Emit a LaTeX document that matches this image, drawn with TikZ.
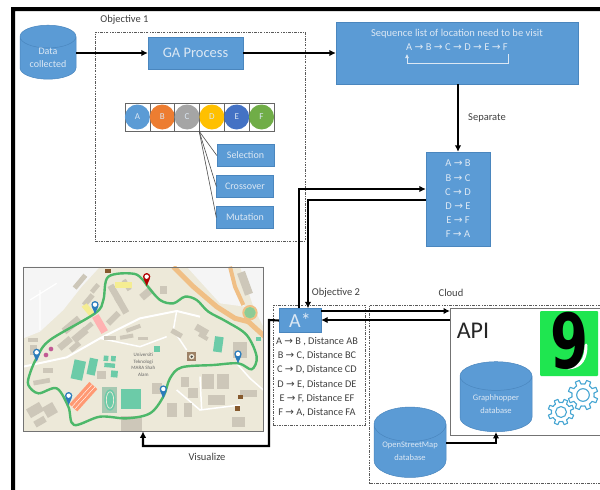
\documentclass[tikz,border=0pt]{standalone}
\usepackage{fontspec}
\setmainfont{Carlito}
\newfontfamily\arrfont{DejaVu Sans}
\usetikzlibrary{arrows.meta,shapes.geometric}
\definecolor{boxblue}{HTML}{5B9BD5}
\definecolor{boxedge}{HTML}{4A86BE}
\definecolor{paletxt}{HTML}{DCE8F4}
\definecolor{labeltxt}{HTML}{404040}
\definecolor{mapbg}{HTML}{EDE9D9}
\definecolor{mapbld}{HTML}{CDC7B9}
\definecolor{mapfield}{HTML}{6CCBA8}
\definecolor{maproad}{HTML}{F0BF85}
\definecolor{maproute}{HTML}{4DB86A}
\definecolor{pinblue}{HTML}{2B7CBB}
\definecolor{gearblue}{HTML}{45A5D2}
\definecolor{logogreen}{HTML}{1FE650}
\newcommand{\myar}{{\arrfont\char"2192}}
\newcommand{\bld}[5]{\fill[mapbld,shift={(#1,#2)},rotate=-#5] (-#3/2,-#4/2) rectangle (#3/2,#4/2);}
\newcommand{\fld}[5]{\fill[mapfield,shift={(#1,#2)},rotate=-#5] (-#3/2,-#4/2) rectangle (#3/2,#4/2);}
\newcommand{\mappin}[3]{\fill[#3] (#1,#2) -- (#1-10,#2-23) -- (#1+10,#2-23) -- cycle;
  \fill[#3] (#1,#2-28) circle[radius=11];
  \fill[white] (#1,#2-28) circle[radius=6.5];}
\newcommand{\gearshape}[3]{%
  \draw[gearblue,line width=1.1pt,line join=round,shift={(#1,#2)}] (0:#3*.74)
   \foreach \a in {0,45,...,315}{ -- (\a+10:#3*.74) -- (\a+14:#3) -- (\a+31:#3) -- (\a+35:#3*.74) -- (\a+45:#3*.74)} -- cycle;
  \draw[gearblue,line width=1.1pt] (#1,#2) circle[radius=#3*.42];}
\tikzset{
  bluebox/.style={rectangle,fill=boxblue,draw=boxedge,line width=.3pt,text=paletxt,inner sep=0pt,align=center},
  dbcyl/.style={cylinder,shape border rotate=90,aspect=.62,fill=boxblue,draw=boxedge,line width=.5pt,text=paletxt,inner sep=0pt,align=center},
  zone/.style={draw=black!65,line width=.6pt,dash pattern=on 2.5pt off 1.2pt on .8pt off 1.2pt},
  flow/.style={line width=2.1pt,draw=black,-{Latex[length=6.5pt,width=6.5pt]}},
  plainlabel/.style={text=labeltxt,inner sep=0pt,font=\fontsize{10.5}{12}\selectfont},
  cell/.style={rectangle,draw=black!60,line width=.6pt,minimum width=24.83pt,minimum height=28pt,inner sep=0pt},
  gene/.style={circle,minimum size=25pt,inner sep=0pt,text=paletxt,font=\fontsize{9}{10}\selectfont},
  linkline/.style={draw=black!70,line width=.6pt},
}
\begin{document}
\begin{tikzpicture}[x=1pt,y=-1pt]
\useasboundingbox (0,0) rectangle (600,490);
\fill[white] (0,0) rectangle (600,490);
% outer frame
\fill[black] (11,490) -- (11,7) -- (600,7) -- (600,11) -- (15,11) -- (15,490) -- cycle;
% zones
\node[zone,minimum width=210pt,minimum height=209pt,inner sep=0pt] (obja) at (200,136.5) {};
\node[zone,minimum width=92pt,minimum height=120pt,inner sep=0pt] (objb) at (319,365) {};
\draw[zone] (600,305) -- (369,305) -- (369,483) -- (600,483);
\node[plainlabel] (oneL) at (124.5,20) {Objective 1};
\node[plainlabel] (twoL) at (336,292.5) {Objective 2};
\node[plainlabel] (cloudL) at (451,292.5) {Cloud};
% data and GA
\node[dbcyl,minimum width=56pt,minimum height=54pt,font=\fontsize{10}{13}\selectfont] (data) at (48,58) {Data\\collected};
\node[bluebox,minimum width=95pt,minimum height=32pt,font=\fontsize{14.5}{16}\selectfont] (ga) at (195.5,53) {GA Process};
\node[bluebox,minimum width=242pt,minimum height=62pt] (seq) at (457,53) {};
\node[text=paletxt,inner sep=0pt,font=\fontsize{10.5}{12}\selectfont] (seqa) at (457,34) {Sequence list of location need to be visit};
\node[text=paletxt,inner sep=0pt,font=\fontsize{10.5}{12}\selectfont] (seqb) at (457,47.5) {A \myar{} B \myar{} C \myar{} D \myar{} E \myar{} F};
\coordinate (retF) at (508,54);
\coordinate (retA) at (407,54);
\draw[paletxt,line width=.7pt,-{Latex[length=4pt,width=4pt]}] (retF) -- ++(0,9) -| (retA);
% list
\node[bluebox,minimum width=64pt,minimum height=94pt,font=\fontsize{10.5}{14.2}\selectfont] (pairs) at (458,199) {A \myar{} B\\B \myar{} C\\C \myar{} D\\D \myar{} E\\E \myar{} F\\F \myar{} A};
\node[plainlabel] (sepL) at (487,118) {Separate};
% chromosome
\foreach \n/\l/\c [count=\i] in {a/A/5B9BD5,b/B/ED7D31,c/C/A5A5A5,d/D/FFC000,e/E/4472C4,f/F/70AD47}{
  \definecolor{genec}{HTML}{\c}
  \node[cell] (cell\n) at ({125+24.83*(\i-.5)},117) {};
  \node[gene,fill=genec] (gene\n) at (cell\n) {\l};
}
\node[bluebox,minimum width=57pt,minimum height=22pt,font=\fontsize{10}{12}\selectfont] (selb) at (245.5,155.5) {Selection};
\node[bluebox,minimum width=57pt,minimum height=22pt,font=\fontsize{10}{12}\selectfont] (crob) at (245,186.5) {Crossover};
\node[bluebox,minimum width=57pt,minimum height=22pt,font=\fontsize{10}{12}\selectfont] (mutb) at (245,217.5) {Mutation};
\draw[linkline] (celld.south west) -- (selb.west);
\draw[linkline] (celld.south west) -- (crob.west);
\draw[linkline] (celld.south west) -- (mutb.west);
% map
\begin{scope}[x=.33333pt,y=-.33333pt,yshift=-250pt]
\begin{scope}
\clip (70,50) rectangle (790,542);
\fill[mapbg] (70,50) rectangle (790,542);
\fill[black!4] (70,50) -- (300,50) -- (245,110) -- (190,180) -- (120,245) -- (70,265) -- cycle;
\fill[black!4] (560,50) -- (690,50) -- (715,135) -- (735,170) -- (660,160) -- cycle;
\fill[black!4] (720,50) -- (790,50) -- (790,230) -- (760,170) -- cycle;
% roads
\draw[maproad,line width=5pt] (520,50) -- (580,110) -- (650,170) -- (705,205) -- (745,215) -- (800,265);
\draw[maproad,line width=4pt] (690,50) -- (705,110) -- (730,165);
\fill[mapbg!70!green,draw=maproad,line width=2pt] (750,188) circle[radius=20];
\fill[maproute!60!mapbg] (750,188) circle[radius=17];
\draw[white,line width=2pt] (70,350) -- (200,322) -- (300,265) -- (420,205) -- (530,183) -- (600,200);
\draw[white,line width=1.5pt] (530,183) -- (520,240) -- (560,300);
\draw[white,line width=1.5pt] (300,265) -- (420,290) -- (500,260);
\draw[white,line width=1.5pt] (710,340) -- (750,385) -- (790,420);
\draw[white,line width=1.5pt] (530,420) -- (600,480) -- (720,465);
\draw[white,line width=1.5pt] (600,380) -- (605,480);
\draw[white,line width=1.2pt] (120,120) -- (120,240) (170,100) -- (90,150);
% buildings
\bld{240}{95}{50}{15}{-50}
\bld{215}{225}{60}{22}{-40}
\bld{240}{255}{50}{22}{-40}
\bld{195}{280}{45}{20}{-40}
\bld{225}{290}{35}{16}{-40}
\bld{265}{230}{30}{14}{-40}
\bld{285}{115}{30}{14}{-50}
\bld{345}{130}{55}{20}{60}
\bld{365}{165}{55}{20}{60}
\bld{380}{105}{35}{14}{60}
\bld{340}{205}{45}{18}{-45}
\bld{265}{150}{40}{16}{-50}
\bld{100}{270}{30}{14}{0}
\bld{100}{300}{20}{30}{0}
\bld{145}{362}{30}{14}{0}
\bld{125}{395}{50}{14}{-10}
\bld{105}{480}{45}{30}{-30}
\bld{150}{480}{35}{35}{-30}
\bld{120}{515}{35}{20}{-30}
\bld{400}{235}{45}{12}{-20}
\bld{380}{260}{40}{12}{-10}
\bld{330}{265}{35}{12}{0}
\bld{430}{265}{30}{10}{0}
\bld{305}{375}{25}{25}{0}
\bld{440}{130}{40}{22}{-40}
\bld{490}{120}{22}{22}{0}
\bld{530}{250}{35}{15}{30}
\bld{605}{240}{40}{20}{30}
\bld{610}{260}{30}{12}{30}
\bld{720}{300}{40}{50}{0}
\bld{625}{395}{35}{45}{0}
\bld{670}{395}{35}{45}{0}
\bld{555}{395}{25}{30}{0}
\bld{580}{430}{30}{30}{0}
\bld{515}{480}{30}{40}{0}
\bld{565}{480}{25}{40}{0}
\bld{650}{450}{50}{30}{0}
\bld{745}{430}{50}{20}{0}
\bld{715}{515}{40}{30}{0}
\bld{395}{520}{65}{45}{0}
\bld{470}{415}{30}{35}{0}
\bld{735}{100}{25}{70}{-20}
\fill[brown!60!black!70] (575,320) +(-13,-13) rectangle +(13,13);
\fill[mapbg] (575,320) circle[radius=8];
\fill[black!70] (575,320) circle[radius=4];
\fill[brown!70!black] (315,58) rectangle (333,70);
\fill[brown!70!black] (715,435) rectangle (730,448);
\fill[brown!70!black] (705,468) rectangle (720,483);
% fields
\fld{235}{360}{35}{58}{12}
\fld{277}{350}{25}{50}{12}
\fld{318}{325}{14}{16}{5}
\fld{340}{326}{14}{16}{5}
\fld{329}{346}{32}{13}{5}
\fld{343}{372}{20}{20}{5}
\fld{393}{446}{60}{60}{0}
\fld{470}{297}{18}{18}{0}
\fld{655}{283}{26}{46}{8}
\fld{775}{268}{14}{12}{0}
\fill[mapbld!60!mapfield] (307,410) rectangle (352,490);
\fill[mapfield] (330,450) ellipse[x radius=17,y radius=32];
\draw[mapbg,line width=.7pt] (330,450) ellipse[x radius=11,y radius=25];
% pink
\fill[red!45!orange!55!white,shift={(250,440)},rotate=48] (-45,-16) rectangle (45,16);
\draw[white,line width=.4pt,shift={(250,440)},rotate=48] (-45,-5) -- (45,-5) (-45,6) -- (45,6);
\fill[red!30!white,shift={(300,222)},rotate=-60] (-28,-11) rectangle (28,11);
\fill[magenta!70!black!80] (153,297) circle[radius=7] (138,315) circle[radius=7];
\fill[yellow!35!mapbg] (345,95) rectangle (395,115);
\fill[yellow!35!mapbg] (245,170) -- (270,200) -- (285,190) -- (260,160) -- cycle;
% route
\draw[maproute,line width=2.4pt,line join=round] plot[smooth,tension=.55] coordinates {(440,105) (480,150) (520,160) (555,140) (590,150) (625,185) (680,215) (740,255) (770,320) (755,358) (715,340) (640,345) (545,352) (510,385) (490,440) (450,490) (380,505) (300,500) (222,525) (205,470) (170,415) (115,430) (85,405) (90,370) (112,320) (150,270) (285,190) (310,150) (325,80) (405,72) (440,105)};
\mappin{285}{192}{pinblue}
\mappin{110}{335}{pinblue}
\mappin{206}{465}{pinblue}
\mappin{490}{445}{pinblue}
\mappin{714}{340}{pinblue}
\mappin{440}{108}{red!70!black}
\node[text=black!60,align=center,inner sep=0pt,font=\fontsize{5}{6.5}\selectfont] (campus) at (430,345) {Universiti\\Teknologi\\MARA Shah\\Alam};
\end{scope}
\end{scope}
\node[rectangle,draw=black!55,line width=.7pt,minimum width=240pt,minimum height=164pt,inner sep=0pt] (map) at (143,349) {};
% A*
\node[bluebox,minimum width=42pt,minimum height=24pt,font=\fontsize{20}{22}\selectfont] (astar) at (300,320.5) {A*};
\node[text=labeltxt,inner sep=0pt,font=\fontsize{10.3}{12}\selectfont] (d1) at (317,342) {A \myar{} B , Distance AB};
\node[text=labeltxt,inner sep=0pt,font=\fontsize{10.3}{12}\selectfont] (d2) at (317,356) {B \myar{} C, Distance BC};
\node[text=labeltxt,inner sep=0pt,font=\fontsize{10.3}{12}\selectfont] (d3) at (317,370) {C \myar{} D, Distance CD};
\node[text=labeltxt,inner sep=0pt,font=\fontsize{10.3}{12}\selectfont] (d4) at (317,384.5) {D \myar{} E, Distance DE};
\node[text=labeltxt,inner sep=0pt,font=\fontsize{10.3}{12}\selectfont] (d5) at (317,398.5) {E \myar{} F, Distance EF};
\node[text=labeltxt,inner sep=0pt,font=\fontsize{10.3}{12}\selectfont] (d6) at (317,413) {F \myar{} A, Distance FA};
% API
\fill[white] (450,308) rectangle (600,435);
\draw[black!55,line width=.8pt] (600,308) -- (450,308) -- (450,435) -- (600,435);
\coordinate (apiw) at (450,320);
\coordinate (apiwb) at (450,311);
\node[text=black!85,inner sep=0pt,font=\fontsize{24}{26}\selectfont] (api) at (473,331) {API};
\node[rectangle,fill=logogreen,minimum width=58pt,minimum height=65pt,rounded corners=1pt,inner sep=0pt] (logo) at (569,343.5) {};
\draw[white,line width=3pt,line cap=round] (586,345) .. controls (586,358) and (582,367) .. (568,368);
\node[text=black,inner sep=0pt,transform shape,xscale=.72,font=\arrfont\bfseries\fontsize{76}{76}\selectfont] (nine) at (570,340.5) {9};
\gearshape{583}{395}{15}
\gearshape{561}{412}{13}
\node[dbcyl,minimum width=72pt,minimum height=70pt,font=\fontsize{8.5}{13}\selectfont] (graph) at (496,404) {Graphhopper\\database};
\node[dbcyl,minimum width=72pt,minimum height=70pt,font=\fontsize{8.5}{13}\selectfont] (osm) at (410,451) {OpenStreetMap\\database};
% connectors
\draw[flow] (data.east |- ga.west) -- (ga.west);
\draw[flow] (ga.east) -- (seq.west |- ga.east);
\draw[flow] (seq.south -| pairs.north) -- (pairs.north);
\draw[flow] (astar.north -| 299,0) |- ([yshift=10pt]pairs.west);
\draw[flow] ([yshift=-1pt]pairs.west) -| (308,0 |- astar.north);
\draw[flow] ([yshift=9.5pt]astar.east) -- (apiwb);
\draw[flow] (apiw) -- ([yshift=.5pt]astar.east);
\draw[flow] (astar.west) -- (269,320) |- (143,446) -- (map.south -| 143,0);
\draw[flow] ([yshift=8pt]osm.east) -| (graph.south);
\node[plainlabel] (visL) at (207,457) {Visualize};
\end{tikzpicture}
\end{document}
